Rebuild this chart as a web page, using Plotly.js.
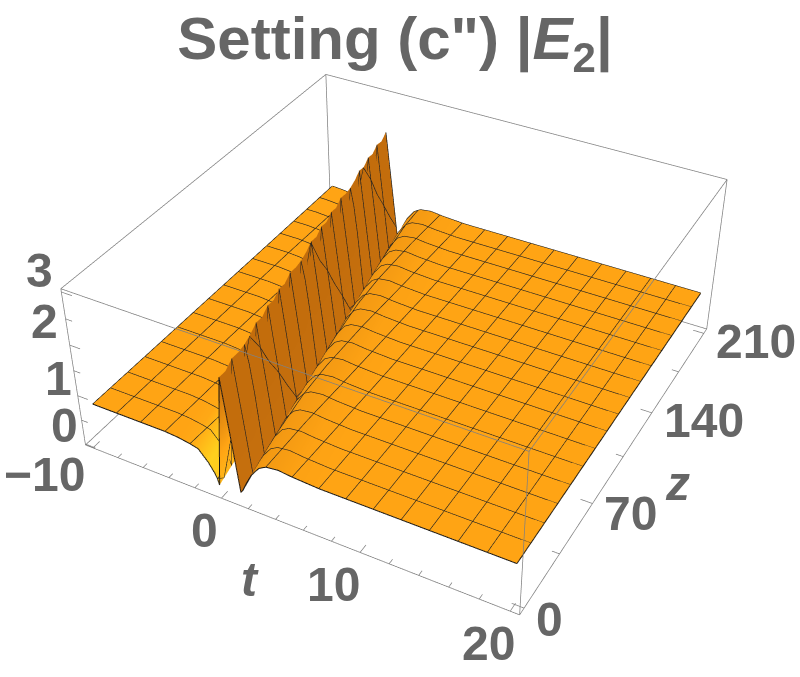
<!DOCTYPE html>
<html><head><meta charset="utf-8">
<script src="https://cdn.plot.ly/plotly-3.0.1.min.js"></script>
<style>html,body{margin:0;padding:0;background:#fff;overflow:hidden}
#wrap{position:relative;width:800px;height:677px;overflow:hidden}
#plot{position:absolute;left:-375px;top:-354px;width:1571px;height:1329px}</style>
</head><body><div id="wrap"><div id="plot"></div></div>
<script>
// ---- data ----
const tStart = -10, tEnd = 20;
const offsetFromRidge = [-4.6,-3.6,-2.7,-2.1,-1.4,-1.0,-0.825,-0.7,0,0.25,0.5,0.9,1.05,1.4,1.8,2.4,2.925,3.8,4.8,6.7];
const profileMesh  = [0.78,0.78,0.76,0.72,0.68,0.47,0.30,0.20,0.08,2.28,1.68,1.08,0.10,0.15,0.35,0.55,0.75,0.83,0.86,0.83,0.80,0.80];
const profileRound = [0.78,0.78,0.76,0.72,0.68,0.47,0.30,0.20,0.08,2.20,1.85,1.28,0.12,0.15,0.35,0.55,0.75,0.83,0.86,0.83,0.80,0.80];
const profileMid   = [0.78,0.78,0.76,0.72,0.68,0.47,0.30,0.20,0.08,2.22,1.62,1.05,0.10,0.15,0.35,0.55,0.75,0.83,0.86,0.83,0.80,0.80];
const shadeProfile = [0.50,0.50,0.50,0.55,0.72,0.98,0.95,0.85,0.70,0.03,0.03,0.03,0.05,0.10,0.20,0.36,0.40,0.42,0.44,0.48,0.50,0.50];
const zValues = [0,6.5625,13.125,19.6875,26.25,32.8125,39.375,45.9375,52.5,59.0625,65.625,72.1875,78.75,85.3125,91.875,98.4375,105,111.5625,118.125,124.6875,131.25,137.8125,144.375,150.9375,157.5,164.0625,170.625,177.1875,183.75,190.3125,196.875,203.4375,210];
const ridgeT = [0.2,0.03,-0.14,-0.31,-0.48,-0.65,-0.82,-0.99,-1.16,-1.33,-1.5,-1.67,-1.84,-2.01,-2.18,-2.35,-2.52,-2.69,-2.86,-3.03,-3.2,-3.37,-3.54,-3.71,-3.88,-4.05,-4.22,-4.39,-4.56,-4.73,-4.9,-5.05,-5.2];
const rowKinds = ['m','h','m','h','r','h','m','h','m','h','m','h','m','h','r','h','m','h','m','h','m','h','m','h','r','h','m','h','m','h','m','h','m'];
const meshT = [-8.125,-6.25,-4.375,-2.5,-0.625,1.25,3.125,5,6.875,8.75,10.625,12.5,14.375,16.25,18.125];
const tTicks = [-10,-8,-6,-4,-2,0,2,4,6,8,10,12,14,16,18,20];
const zTicks = [0,35,70,105,140,175,210];
const hTicks = [0,0.5,1,1.5,2,2.5,3];
const tLabels = ['\u221210','0','10','20'];
const tLabelAt = [-10,0,10,20];
const zLabels = ['0','70','140','210'];
const zLabelAt = [0,70,140,210];
const hLabels = ['0','1','2','3'];
const hLabelAt = [0,1,2,3];
const tRange = [-10.6,20.6], zRange = [-4.2,214.2], hRange = [-0.02,3.06];

// ---- build ----
const byKind = {m:profileMesh,r:profileRound,h:profileMid};
const surfaceZ = rowKinds.map(k=>byKind[k]);
const surfaceC = rowKinds.map(()=>shadeProfile);
const surfaceX = ridgeT.map(r=>[tStart].concat(offsetFromRidge.map(d=>r+d),[tEnd]));
const surfaceY = zValues.map(z=>surfaceX[0].map(()=>z));
const surf = {type:'surface',x:surfaceX,y:surfaceY,z:surfaceZ,surfacecolor:surfaceC,cmin:0,cmax:1,showscale:false,
  colorscale:[[0,'#C06A0C'],[0.5,'#FFA414'],[1,'#FFD21E']],
  lighting:{ambient:1,diffuse:0,specular:0,fresnel:0,roughness:1},hoverinfo:'skip',
  contours:{
    x:{show:true,start:-10,end:20,size:1.875,color:'#1f1f1f',width:3,highlight:false},
    y:{show:true,start:0,end:210,size:13.125,color:'#1f1f1f',width:3,highlight:false},
    z:{show:false,highlight:false}}};
function segs(list){const X=[],Y=[],Z=[];list.forEach(s=>{X.push(s[0],s[3],null);Y.push(s[1],s[4],null);Z.push(s[2],s[5],null)});return {X,Y,Z}}
const [a0,a1]=tRange,[b0,b1]=zRange,[c0,c1]=hRange;
const edges=[[a0,b0,c0,a1,b0,c0],[a1,b0,c0,a1,b1,c0],[a1,b1,c0,a0,b1,c0],[a0,b1,c0,a0,b0,c0],
 [a0,b0,c1,a1,b0,c1],[a1,b0,c1,a1,b1,c1],[a1,b1,c1,a0,b1,c1],[a0,b1,c1,a0,b0,c1],
 [a0,b0,c0,a0,b0,c1],[a1,b0,c0,a1,b0,c1],[a1,b1,c0,a1,b1,c1],[a0,b1,c0,a0,b1,c1]];
const e=segs(edges);
const box={type:'scatter3d',mode:'lines',x:e.X,y:e.Y,z:e.Z,line:{color:'#808080',width:1.5},hoverinfo:'skip',showlegend:false};
const tickSegs=[];
tTicks.forEach(t=>tickSegs.push([t,b0,c0,t,b0+(t%10===0?5:3),c0]));
zTicks.forEach(z=>tickSegs.push([a1,z,c0,a1-(z%70===0?0.8:0.5),z,c0]));
hTicks.forEach(h=>tickSegs.push([a0,b0,h,a0+(h%1===0?0.8:0.5),b0,h]));
const ts=segs(tickSegs);
const ticks={type:'scatter3d',mode:'lines',x:ts.X,y:ts.Y,z:ts.Z,line:{color:'#808080',width:1.5},hoverinfo:'skip',showlegend:false};
// black outline of the surface, taken from its own first/last rows and columns
const last=surfaceX.length-1, lastC=surfaceX[0].length-1;
const oX=[...surfaceX[0],null,...surfaceX[last],null,...surfaceX.map(r=>r[0]),null,...surfaceX.map(r=>r[lastC])];
const oY=[...surfaceY[0],null,...surfaceY[last],null,...surfaceY.map(r=>r[0]),null,...surfaceY.map(r=>r[lastC])];
const oZ=[...surfaceZ[0],null,...surfaceZ[last],null,...surfaceZ.map(r=>r[0]),null,...surfaceZ.map(r=>r[lastC])];
const outline={type:'scatter3d',mode:'lines',x:oX,y:oY,z:oZ,line:{color:'#111111',width:2},hoverinfo:'skip',showlegend:false};
// heavier mesh: z-lines are the surface's own rows, t-lines follow the same rows at each mesh t
const mX=[],mY=[],mZ=[];
zValues.forEach((z,r)=>{ if(rowKinds[r]!=='h'){surfaceX[r].forEach((x,c)=>{mX.push(x);mY.push(z);mZ.push(surfaceZ[r][c])});mX.push(null);mY.push(null);mZ.push(null)} });
meshT.forEach(t=>{ zValues.forEach((z,r)=>{ const xs=surfaceX[r],zs=surfaceZ[r];let c=0;while(c<xs.length-2&&xs[c+1]<t)c++;const f=(t-xs[c])/(xs[c+1]-xs[c]);mX.push(t);mY.push(z);mZ.push(zs[c]+f*(zs[c+1]-zs[c]))});mX.push(null);mY.push(null);mZ.push(null)});
const meshTrace={type:'scatter3d',mode:'lines',x:mX,y:mY,z:mZ,line:{color:'#2a2a2a',width:1.5},hoverinfo:'skip',showlegend:false};

const lf={family:'Liberation Sans, Arial, sans-serif',size:48,color:'#666666',weight:700};
const ann=[];
const tShift=[[-48,-27],[-17,-32],[-27,-32],[-22,-32]];
tLabelAt.forEach((t,i)=>ann.push({x:t,y:b0,z:c0,text:'<b>'+tLabels[i]+'</b>',showarrow:false,font:lf,xshift:tShift[i][0],yshift:tShift[i][1]}));
const zShift=[[25,-11],[38,-10],[52,-8],[52,-8]];
zLabelAt.forEach((z,i)=>ann.push({x:a1,y:z,z:c0,text:'<b>'+zLabels[i]+'</b>',showarrow:false,font:lf,xshift:zShift[i][0],yshift:zShift[i][1]}));
const hShift=[[-21,19],[-19,17],[-25,24],[-22,21]];
hLabelAt.forEach((h,i)=>ann.push({x:a0,y:b0,z:h,text:'<b>'+hLabels[i]+'</b>',showarrow:false,font:lf,xshift:hShift[i][0],yshift:hShift[i][1]}));
ann.push({x:4,y:b0,z:c0,text:'<b><i>t</i></b>',showarrow:false,font:lf,xshift:-26,yshift:-60});
ann.push({x:a1,y:105,z:c0,text:'<b><i>z</i></b>',showarrow:false,font:lf,xshift:54,yshift:-27});

const hid={showgrid:false,zeroline:false,showline:false,showbackground:false,showticklabels:false,ticks:'',title:{text:''},showspikes:false,autorange:false};
const W=1571,H=1329,offL=375,offT=354;
const layout={width:W,height:H,margin:{l:0,r:0,t:0,b:0},paper_bgcolor:'#fff',showlegend:false,hovermode:false,
 title:{text:'Setting (c") |<i>E</i><sub>2</sub>|',font:{family:'Liberation Sans, Arial, sans-serif',size:60,color:'#666666',weight:700},x:(395+offL)/W,xanchor:'center',y:1-(38+offT)/H,yanchor:'middle'},
 scene:{domain:{x:[0,1],y:[0,1]},aspectmode:'manual',aspectratio:{x:1,y:1,z:0.4},
  camera:{eye:{x:1.3,y:-2.4,z:2},center:{x:0,y:0,z:0},up:{x:0,y:0,z:1},projection:{type:'perspective'}},
  xaxis:Object.assign({},hid,{range:[a0-0.03,a1+0.03]}),yaxis:Object.assign({},hid,{range:[b0-0.2,b1+0.2]}),zaxis:Object.assign({},hid,{range:[c0-0.003,c1+0.003]}),
  annotations:ann}};
Plotly.newPlot('plot',[surf,meshTrace,outline,box,ticks],layout,{displayModeBar:false});
</script></body></html>
